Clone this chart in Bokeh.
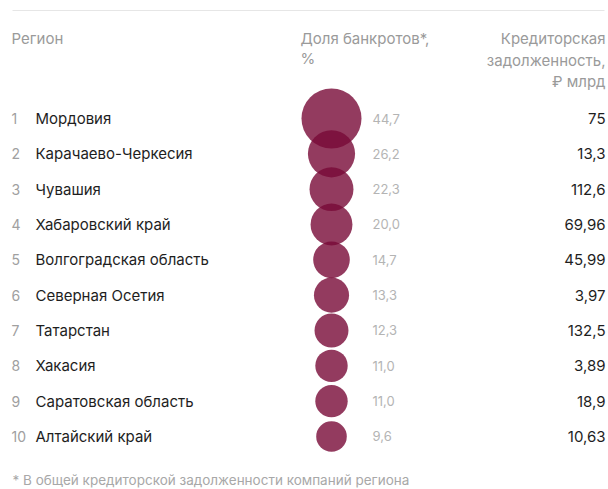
from bokeh.plotting import figure
from bokeh.models import Range1d, ColumnDataSource
from bokeh.core.properties import value
from bokeh.embed import file_html
from bokeh.resources import INLINE
import math

ranks = [1, 2, 3, 4, 5, 6, 7, 8, 9, 10]
regions = ["Мордовия", "Карачаево-Черкесия", "Чувашия", "Хабаровский край",
           "Волгоградская область", "Северная Осетия", "Татарстан", "Хакасия",
           "Саратовская область", "Алтайский край"]
share = [44.7, 26.2, 22.3, 20.0, 14.7, 13.3, 12.3, 11.0, 11.0, 9.6]
debt = ["75", "13,3", "112,6", "69,96", "45,99", "3,97", "132,5", "3,89", "18,9", "10,63"]

FONT = value("Inter")
Y0, STEP = 118.0, 35.33


def py(px):
    return 1 + (px - Y0) / STEP


p = figure(width=608, height=489, output_backend="svg", toolbar_location=None,
           x_range=Range1d(0, 608), y_range=Range1d(py(489), py(0)),
           min_border=0, outline_line_color=None)
p.axis.visible = False
p.grid.visible = False
p.background_fill_color = "white"
p.border_fill_color = "white"

src = ColumnDataSource(dict(
    rank=ranks,
    rank_s=[str(r) for r in ranks],
    region=regions,
    share=share,
    share_s=[("%.1f" % v).replace(".", ",") for v in share],
    debt=debt,
    r=[2.6 + 4.1 * math.sqrt(v) for v in share],
))

# top rule
p.segment(x0=12, y0=py(10), x1=604, y1=py(10), line_color="#e6e6e6", line_width=1)

# headers
hdr = dict(text_font=FONT, text_font_size="15px", text_color="#9a9a9a", text_baseline="middle")
p.text(x=[11], y=[py(38)], text=["Регион"], text_align="left", **hdr)
p.text(x=[300, 300], y=[py(38), py(58)], text=["Доля банкротов*,", "%"], text_align="left", **hdr)
p.text(x=[605, 605, 605], y=[py(38), py(59.5), py(80.5)],
       text=["Кредиторская", "задолженность,", "₽ млрд"], text_align="right", **hdr)

# bubbles
p.circle(x=331, y="rank", radius="r", radius_units="screen", source=src,
         fill_color="#780A37", fill_alpha=0.8, line_color=None)

# rows
p.text(x=11, y="rank", text="rank_s", source=src, text_font=FONT, text_font_size="14px",
       text_color="#a0a0a0", text_baseline="middle", text_align="left")
p.text(x=35, y="rank", text="region", source=src, text_font=FONT, text_font_size="15px",
       text_color="#1e1e1e", text_baseline="middle", text_align="left")
p.text(x=372, y="rank", text="share_s", source=src, text_font=FONT, text_font_size="13px",
       text_color="#b4b4b4", text_baseline="middle", text_align="left")
p.text(x=605, y="rank", text="debt", source=src, text_font=FONT, text_font_size="15px",
       text_color="#1e1e1e", text_baseline="middle", text_align="right")

# footnote
p.text(x=[12], y=[py(479)], text=["* В общей кредиторской задолженности компаний региона"],
       text_font=FONT, text_font_size="13.5px", text_color="#a8a8a8",
       text_baseline="middle", text_align="left")

open("out.html", "w").write(file_html(p, INLINE))
